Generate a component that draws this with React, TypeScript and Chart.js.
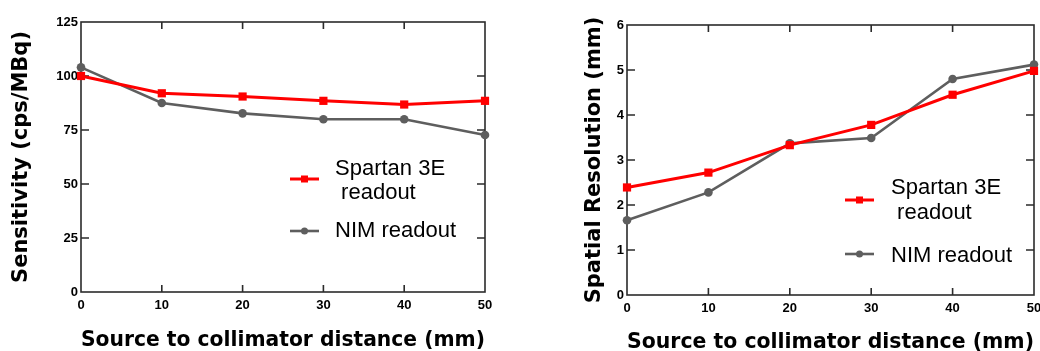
import React, { useEffect, useRef } from 'react';
import { Chart, registerables } from 'chart.js';

Chart.register(...registerables);

// ---- data ----
const distances = [0, 10, 20, 30, 40, 50];
const sensitivitySpartan = [100, 92, 90.5, 88.5, 86.8, 88.5];
const sensitivityNim = [104, 87.5, 82.7, 80, 80, 72.7];
const resolutionSpartan = [2.39, 2.72, 3.33, 3.78, 4.45, 4.98];
const resolutionNim = [1.66, 2.28, 3.37, 3.49, 4.8, 5.12];
const distanceTicks = [0, 10, 20, 30, 40, 50];
const sensitivityTicks = [0, 25, 50, 75, 100, 125];
const resolutionTicks = [0, 1, 2, 3, 4, 5, 6];
const seriesLabels = ['Spartan 3E\n readout', 'NIM readout'];
const xTitle = 'Source to collimator distance (mm)';
const leftYTitle = 'Sensitivity (cps/MBq)';
const rightYTitle = 'Spatial Resolution (mm)';

const RED = '#ff0000';
const GRAY = '#5e5e5e';
const FRAME = '#2b2b2b';
const H = 351;

const framePlugin = {
  id: 'frameTicks',
  beforeDatasetsDraw(chart: any) {
    const { ctx, chartArea: a, scales } = chart;
    ctx.save();
    ctx.strokeStyle = FRAME;
    ctx.lineWidth = 1.6;
    ctx.strokeRect(a.left, a.top, a.right - a.left, a.bottom - a.top);
    ctx.beginPath();
    const xs = scales.x;
    xs.ticks.forEach((t: any) => {
      const px = xs.getPixelForValue(t.value);
      if (px <= a.left + 1 || px >= a.right - 1) return;
      ctx.moveTo(px, a.bottom);
      ctx.lineTo(px, a.bottom - 7);
      ctx.moveTo(px, a.top);
      ctx.lineTo(px, a.top + 7);
    });
    const ys = scales.y;
    ys.ticks.forEach((t: any) => {
      const py = ys.getPixelForValue(t.value);
      if (py <= a.top + 1 || py >= a.bottom - 1) return;
      ctx.moveTo(a.left, py);
      ctx.lineTo(a.left + 8, py);
      ctx.moveTo(a.right, py);
      ctx.lineTo(a.right - 8, py);
    });
    ctx.stroke();
    ctx.restore();
  },
};

const legendPlugin = {
  id: 'innerLegend',
  afterDatasetsDraw(chart: any) {
    const opts = chart.options.plugins.innerLegend;
    if (!opts) return;
    const { ctx } = chart;
    ctx.save();
    chart.data.datasets.forEach((ds: any, i: number) => {
      const item = opts.items[i];
      ctx.strokeStyle = ds.borderColor;
      ctx.lineWidth = ds.borderWidth;
      ctx.beginPath();
      ctx.moveTo(opts.lineX0, item.lineY);
      ctx.lineTo(opts.lineX1, item.lineY);
      ctx.stroke();
      const cx = (opts.lineX0 + opts.lineX1) / 2;
      ctx.fillStyle = ds.pointBackgroundColor;
      if (ds.pointStyle === 'rect') {
        ctx.fillRect(cx - 3.5, item.lineY - 3.5, 7, 7);
      } else {
        ctx.beginPath();
        ctx.arc(cx, item.lineY, 3.5, 0, Math.PI * 2);
        ctx.fill();
      }
      ctx.fillStyle = '#000';
      ctx.font = '22px "Liberation Sans", Arial, sans-serif';
      ctx.textBaseline = 'alphabetic';
      ctx.textAlign = 'left';
      String(ds.label).split('\n').forEach((line: string, j: number) => {
        ctx.fillText(line, opts.textX, item.textY + j * opts.lineGap);
      });
    });
    ctx.restore();
  },
};

function makeConfig(p: any) {
  return {
    type: 'line',
    data: {
      datasets: [
        {
          label: seriesLabels[0],
          data: distances.map((x, i) => ({ x, y: p.spartan[i] })),
          borderColor: RED,
          backgroundColor: RED,
          pointBackgroundColor: RED,
          pointBorderColor: RED,
          borderWidth: 3,
          pointStyle: 'rect',
          pointRadius: 5.8,
          pointBorderWidth: 0,
          clip: false,
        },
        {
          label: seriesLabels[1],
          data: distances.map((x, i) => ({ x, y: p.nim[i] })),
          borderColor: GRAY,
          backgroundColor: GRAY,
          pointBackgroundColor: GRAY,
          pointBorderColor: GRAY,
          borderWidth: 2.6,
          pointStyle: 'circle',
          pointRadius: 4.3,
          pointBorderWidth: 0,
          clip: false,
        },
      ],
    },
    options: {
      animation: false,
      responsive: false,
      events: [],
      layout: { padding: { top: p.top, right: p.right, left: 0, bottom: 0 } },
      plugins: {
        legend: { display: false },
        tooltip: { enabled: false },
        innerLegend: p.legend,
      },
      scales: {
        x: {
          type: 'linear',
          min: 0,
          max: 50,
          afterBuildTicks: (s: any) => {
            s.ticks = distanceTicks.map((v) => ({ value: v }));
          },
          afterFit: (s: any) => {
            s.height = p.xAxisHeight;
          },
          grid: { display: false, drawTicks: false },
          border: { display: false },
          ticks: {
            padding: 6,
            color: '#000',
            maxRotation: 0,
            autoSkip: false,
            font: { family: '"Liberation Sans", Arial, sans-serif', size: 13, weight: 'bold' },
          },
          title: {
            display: true,
            text: xTitle,
            color: '#000',
            padding: { top: 0, bottom: p.xTitlePad },
            font: { family: '"DejaVu Sans", Verdana, sans-serif', size: 20.5, weight: 'bold', lineHeight: 1 },
          },
        },
        y: {
          type: 'linear',
          min: p.yMin,
          max: p.yMax,
          afterBuildTicks: (s: any) => {
            s.ticks = p.yTicks.map((v: number) => ({ value: v }));
          },
          afterFit: (s: any) => {
            s.width = p.yAxisWidth;
          },
          grid: { display: false, drawTicks: false },
          border: { display: false },
          ticks: {
            padding: 3,
            color: '#000',
            autoSkip: false,
            font: { family: '"Liberation Sans", Arial, sans-serif', size: 13, weight: 'bold' },
          },
          title: {
            display: true,
            text: p.yTitle,
            color: '#000',
            padding: { top: p.yTitlePad, bottom: 0 },
            font: { family: '"DejaVu Sans", Verdana, sans-serif', size: 21, weight: 'bold', lineHeight: 1 },
          },
        },
      },
    },
    plugins: [framePlugin, legendPlugin],
  };
}

function ChartCanvas({ left, width, params }: { left: number; width: number; params: any }) {
  const ref = useRef<HTMLCanvasElement | null>(null);
  useEffect(() => {
    if (!ref.current) return;
    const chart = new Chart(ref.current, makeConfig(params) as any);
    return () => chart.destroy();
  }, []);
  return (
    <canvas
      ref={ref}
      width={width}
      height={H}
      style={{ position: 'absolute', left, top: 0, width, height: H, display: 'block' }}
    />
  );
}

const leftParams = {
  spartan: sensitivitySpartan,
  nim: sensitivityNim,
  yTicks: sensitivityTicks,
  yMin: 0,
  yMax: 125,
  yTitle: leftYTitle,
  top: 22,
  right: 35,
  xAxisHeight: 59,
  yAxisWidth: 81,
  yTitlePad: 11.5,
  xTitlePad: 0,
  legend: {
    lineX0: 290,
    lineX1: 319,
    textX: 335,
    lineGap: 24,
    items: [
      { lineY: 179, textY: 175 },
      { lineY: 231, textY: 237 },
    ],
  },
};

const rightParams = {
  spartan: resolutionSpartan,
  nim: resolutionNim,
  yTicks: resolutionTicks,
  yMin: 0,
  yMax: 6,
  yTitle: rightYTitle,
  top: 25,
  right: 16,
  xAxisHeight: 56,
  yAxisWidth: 107,
  yTitlePad: 64.5,
  xTitlePad: -2,
  legend: {
    lineX0: 325,
    lineX1: 354,
    textX: 371,
    lineGap: 25,
    items: [
      { lineY: 200, textY: 194 },
      { lineY: 254, textY: 262 },
    ],
  },
};

export default function App() {
  return (
    <div
      style={{
        position: 'fixed',
        left: 0,
        top: 0,
        width: 1040,
        height: H,
        overflow: 'hidden',
        background: '#fff',
      }}
    >
      <ChartCanvas left={0} width={520} params={leftParams} />
      <ChartCanvas left={520} width={530} params={rightParams} />
    </div>
  );
}
